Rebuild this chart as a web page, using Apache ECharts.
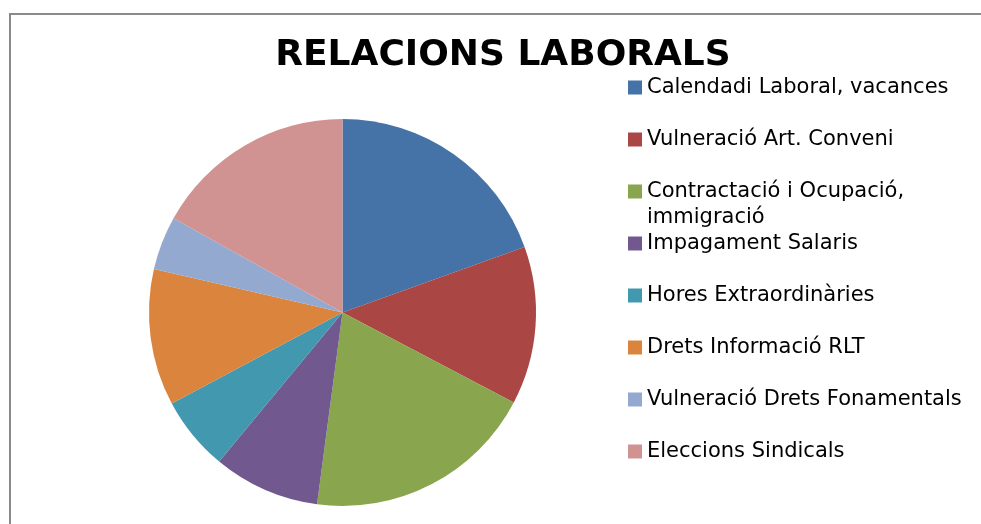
<!DOCTYPE html>
<html>
<head>
<meta charset="utf-8">
<style>
  html, body { margin: 0; padding: 0; background: #ffffff; }
  #chart { width: 981px; height: 524px; }
</style>
<script src="https://cdn.jsdelivr.net/npm/echarts@6/dist/echarts.min.js"></script>
</head>
<body>
<div id="chart"></div>
<script>
// Labour-relations complaints by topic (share of total, %)
const categories = [
  'Calendadi Laboral, vacances',
  'Vulneració Art. Conveni',
  'Contractació i Ocupació, immigració',
  'Impagament Salaris',
  'Hores Extraordinàries',
  'Drets Informació RLT',
  'Vulneració Drets Fonamentals',
  'Eleccions Sindicals'
];
const values = [19.5, 13.2, 19.4, 8.9, 6.2, 11.4, 4.5, 16.9];
const colors = ['#4572A7', '#AA4643', '#89A54E', '#71588F', '#4198AF', '#DB843D', '#93A9CF', '#D19392'];

const chart = echarts.init(document.getElementById('chart'), null, { renderer: 'canvas' });

const LINE_H = 26;
const legendFont = { fontFamily: 'DejaVu Sans', fontSize: 21, color: '#000000', lineHeight: LINE_H };

// One legend block per entry so the wrapped entry keeps the regular row pitch.
// The wrapped entry gets an empty leading line so its first line sits beside the swatch.
const legends = categories.map(function (name, i) {
  const wrapped = name.indexOf(', immigració') >= 0;
  const centerY = 87.5 + i * 52;
  return {
    orient: 'vertical',
    left: 628,
    top: wrapped ? centerY - LINE_H * 1.5 : centerY - LINE_H / 2,
    padding: 0,
    itemWidth: 14,
    itemHeight: 14,
    itemGap: 0,
    icon: 'rect',
    selectedMode: false,
    data: [name],
    formatter: function (n) {
      return n.indexOf(', immigració') >= 0 ? '\n' + n.replace(', immigració', ',\nimmigració') : n;
    },
    textStyle: legendFont
  };
});

chart.setOption({
  animation: false,
  backgroundColor: '#ffffff',
  color: colors,
  title: {
    text: 'RELACIONS LABORALS',
    left: 503,
    top: 56,
    textAlign: 'center',
    textVerticalAlign: 'middle',
    padding: 0,
    textStyle: { fontFamily: 'DejaVu Sans', fontWeight: 'bold', fontSize: 36, color: '#000000' }
  },
  legend: legends,
  graphic: [{
    type: 'rect',
    silent: true,
    z: 100,
    shape: { x: 10, y: 14, width: 1200, height: 800 },
    style: { fill: 'none', stroke: '#8a8a8a', lineWidth: 2 }
  }],
  series: [{
    type: 'pie',
    center: [342.5, 312.5],
    radius: 193.5,
    startAngle: 90,
    clockwise: true,
    label: { show: false },
    labelLine: { show: false },
    emphasis: { disabled: true },
    itemStyle: { borderWidth: 0 },
    data: categories.map(function (name, i) { return { name: name, value: values[i] }; })
  }]
});
</script>
</body>
</html>
